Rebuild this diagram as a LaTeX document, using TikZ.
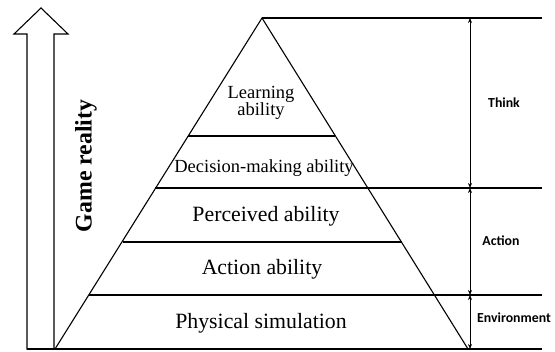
\documentclass[tikz,border=0pt]{standalone}
\usepackage{fontspec}
\setmainfont{Liberation Serif}
\newfontfamily\calfont{Carlito}
\usetikzlibrary{arrows.meta}
\begin{document}
\begin{tikzpicture}[x=1pt,y=-1pt,
  edge/.style={line width=1.1pt,line join=miter},
  lvl/.style={font=\fontsize{21.8}{24}\selectfont,inner sep=0pt},
  lvlsmall/.style={font=\fontsize{18.5}{21}\selectfont,inner sep=0pt,align=center},
  sidelab/.style={font=\calfont\bfseries\fontsize{13.8}{15}\selectfont,inner sep=0pt},
  dim/.style={line width=1pt,{Stealth[length=5pt,width=4pt]}-{Stealth[length=5pt,width=4pt]}}]
\useasboundingbox (0,0) rectangle (555,352);
% pyramid corners
\coordinate (apex) at (262,18);
\coordinate (bl) at (55,349);
\coordinate (br) at (468,349);
% big arrow
\draw[edge] (27,349) -- (27,34) -- (14,34) -- (41,8) -- (68,34) -- (54,34) -- (54,349) -- cycle;
% pyramid
\draw[edge] (bl) -- (apex) -- (br);
\draw[edge] (188,136) -- (335,136);
\draw[edge] (155,188) -- (542,188);
\draw[edge] (123,242) -- (402,242);
\draw[edge] (89,295) -- (542,295);
\draw[edge] (27,349) -- (542,349);
\draw[edge] (apex) -- (542,18);
% dimension coordinates
\coordinate (d0) at (470,18);
\coordinate (d1) at (470,188);
\coordinate (d2) at (470,295);
\coordinate (d3) at (470,349);
\draw[dim] (d0) -- (d1);
\draw[dim] (d1) -- (d2);
\draw[dim] (d2) -- (d3);
% texts
\node[lvlsmall] (learn) at (261,103) {Learning\\[-4pt]ability};
\node[lvlsmall] (dec) at (264,168) {Decision-making ability};
\node[lvl] (perc) at (266,216) {Perceived ability};
\node[lvl] (act) at (262,269) {Action ability};
\node[lvl] (phys) at (261,323) {Physical simulation};
\node[font=\bfseries\fontsize{23.8}{26}\selectfont,rotate=90,inner sep=0pt] (game) at (86,166) {Game reality};
\node[sidelab] (think) at (504,103) {Think};
\node[sidelab] (action) at (501,241) {Action};
\node[sidelab] (env) at (514,318) {Environment};
\end{tikzpicture}
\end{document}
